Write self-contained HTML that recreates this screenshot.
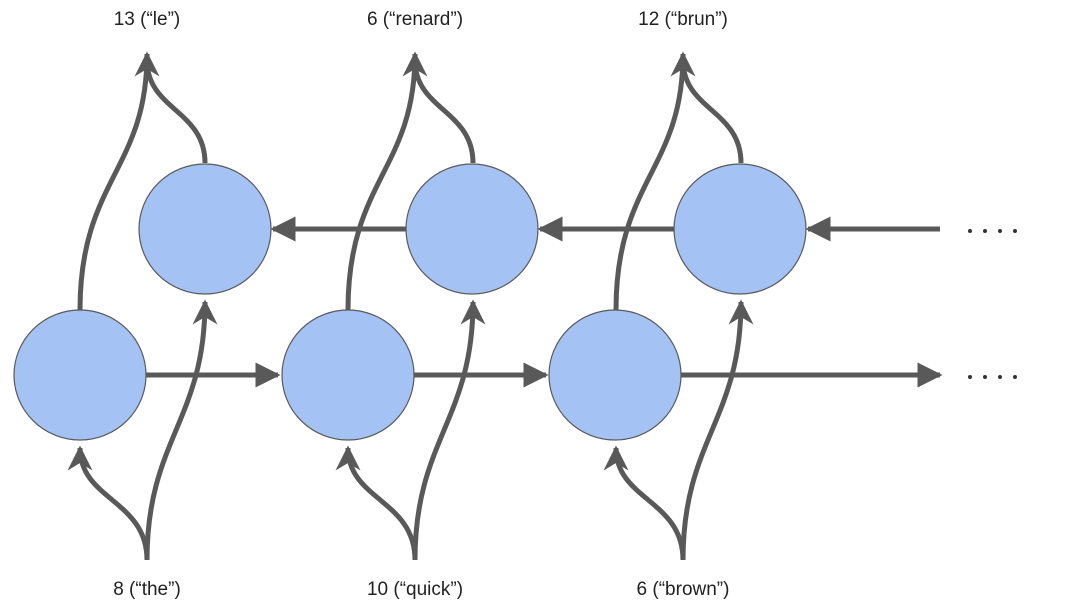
<!DOCTYPE html>
<html><head><style>
body{margin:0;background:#fff;}
svg{display:block}
text{font-family:"Liberation Sans",sans-serif;font-size:19px;fill:#222}
</style></head><body>
<svg width="1080" height="607" viewBox="0 0 1080 607" xmlns="http://www.w3.org/2000/svg">
<defs>
<marker id="a" viewBox="0 0 10 10" refX="9" refY="5" markerWidth="5" markerHeight="5" orient="auto-start-reverse" markerUnits="strokeWidth">
<path d="M0,0 L10,5 L0,10 z" fill="#595959"/></marker>
<marker id="c" viewBox="0 0 10 10" refX="9" refY="5" markerWidth="5" markerHeight="5" orient="auto" markerUnits="strokeWidth">
<path d="M0,0 L10,5 L0,10 L3,5 z" fill="#595959"/></marker>
</defs>
<g stroke="#595959" stroke-width="5" fill="none">
<!-- horizontal -->
<line x1="146" y1="375" x2="278" y2="375" marker-end="url(#a)"/>
<line x1="413" y1="375" x2="546" y2="375" marker-end="url(#a)"/>
<line x1="681" y1="375" x2="940" y2="375" marker-end="url(#a)"/>
<line x1="940" y1="229" x2="808" y2="229" marker-end="url(#a)"/>
<line x1="674" y1="229" x2="540" y2="229" marker-end="url(#a)"/>
<line x1="406" y1="229" x2="273" y2="229" marker-end="url(#a)"/>
</g>
<g id="u" stroke="#595959" stroke-width="5" fill="none">
<path d="M147,560 C147,500 80,500 80,448" marker-end="url(#c)"/>
<path d="M147,560 C147,440 205,420 205,302" marker-end="url(#c)"/>
<path d="M80,310 C80,180 147,170 147,54" marker-end="url(#c)"/>
<path d="M205,163 C205,110 147,110 147,60"/>
</g>
<use href="#u" x="268"/>
<use href="#u" x="536"/>
<g fill="#a4c2f4" stroke="#595959" stroke-width="1.2">
<ellipse cx="80" cy="375" rx="66" ry="65"/>
<ellipse cx="348" cy="375" rx="66" ry="65"/>
<ellipse cx="615" cy="375" rx="66" ry="65"/>
<ellipse cx="205" cy="229" rx="66" ry="65"/>
<ellipse cx="472" cy="229" rx="66" ry="65"/>
<ellipse cx="740" cy="229" rx="66" ry="65"/>
</g>
<g fill="#333">
<circle cx="970" cy="231" r="2"/><circle cx="985" cy="231" r="2"/><circle cx="1000" cy="231" r="2"/><circle cx="1015" cy="231" r="2"/>
<circle cx="970" cy="377" r="2"/><circle cx="985" cy="377" r="2"/><circle cx="1000" cy="377" r="2"/><circle cx="1015" cy="377" r="2"/>
</g>
<g text-anchor="middle">
<text x="147" y="25">13 (“le”)</text>
<text x="415" y="25">6 (“renard”)</text>
<text x="683" y="25">12 (“brun”)</text>
<text x="147" y="595">8 (“the”)</text>
<text x="415" y="595">10 (“quick”)</text>
<text x="683" y="595">6 (“brown”)</text>
</g>
</svg>
</body></html>
